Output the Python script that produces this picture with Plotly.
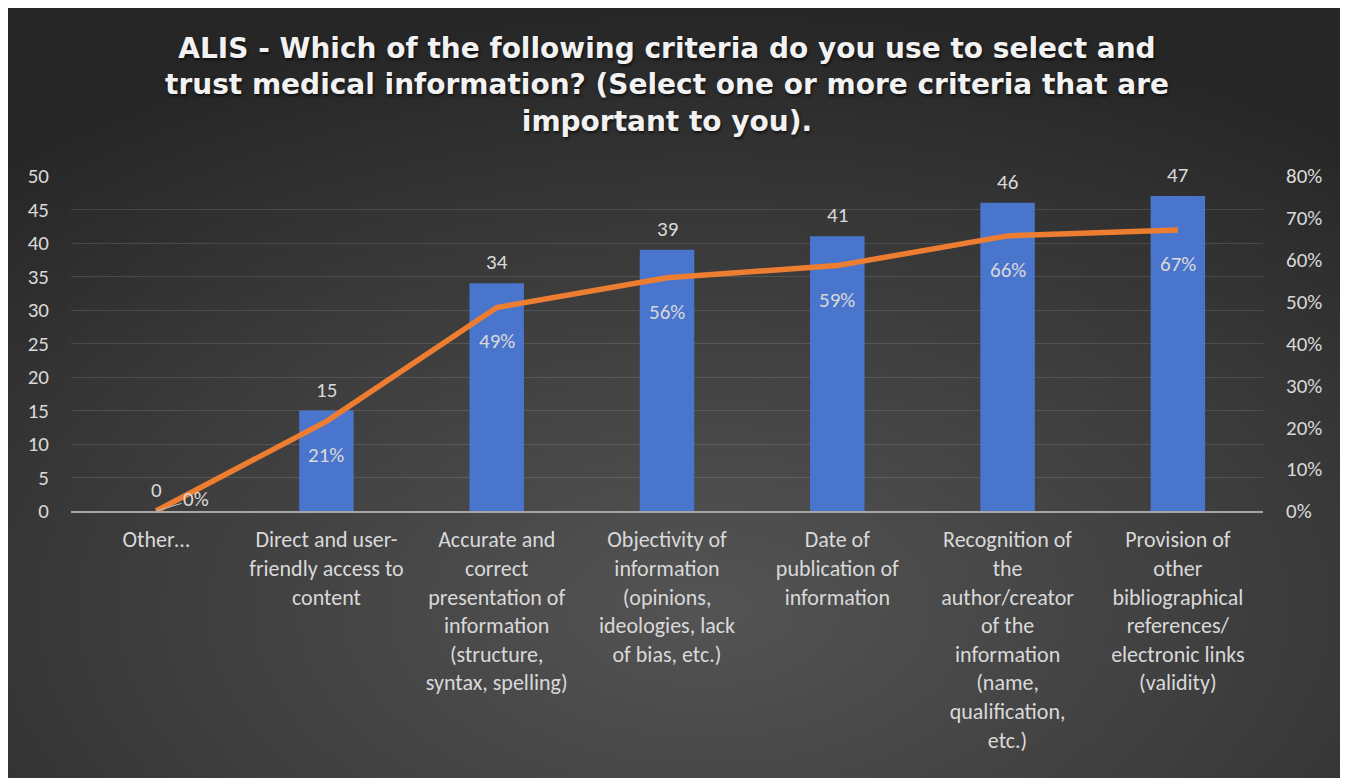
import base64
import plotly.graph_objects as go

categories = [
    "Other…",
    "Direct and user-<br>friendly access to<br>content",
    "Accurate and<br>correct<br>presentation of<br>information<br>(structure,<br>syntax, spelling)",
    "Objectivity of<br>information<br>(opinions,<br>ideologies, lack<br>of bias, etc.)",
    "Date of<br>publication of<br>information",
    "Recognition of<br>the<br>author/creator<br>of the<br>information<br>(name,<br>qualification,<br>etc.)",
    "Provision of<br>other<br>bibliographical<br>references/<br>electronic links<br>(validity)",
]
counts = [0, 15, 34, 39, 41, 46, 47]
shares = [0.0, 0.214, 0.486, 0.557, 0.586, 0.657, 0.671]
count_ticks = [0, 5, 10, 15, 20, 25, 30, 35, 40, 45, 50]
share_ticks = [0, 0.1, 0.2, 0.3, 0.4, 0.5, 0.6, 0.7, 0.8]

title = ("ALIS - Which of the following criteria do you use to select and<br>"
         "trust medical information? (Select one or more criteria that are<br>"
         "important to you).")

# page has an 8px body margin, so figure coords = page coords - 8
W, H = 1340, 770
L, R, T, B = 63, 1255, 168, 503
pw, ph = R - L, B - T

svg = (
    '<svg xmlns="http://www.w3.org/2000/svg" width="1340" height="772" preserveAspectRatio="none">'
    '<defs><radialGradient id="g" cx="0.52" cy="0.78" r="0.78">'
    '<stop offset="0" stop-color="#545454"/>'
    '<stop offset="0.55" stop-color="#3c3c3c"/>'
    '<stop offset="1" stop-color="#262626"/>'
    '</radialGradient></defs>'
    '<rect width="1340" height="772" fill="url(#g)"/></svg>'
)
src = "data:image/svg+xml;base64," + base64.b64encode(svg.encode()).decode()

font_main = "Carlito, Liberation Sans Narrow, Noto Sans, sans-serif"
txt = "#d9d9d9"

fig = go.Figure()
fig.add_trace(go.Bar(
    x=categories, y=counts, width=0.32,
    marker=dict(color="#4a75cd", line=dict(width=0)),
    showlegend=False, hoverinfo="skip",
))
fig.add_trace(go.Scatter(
    x=categories, y=shares, yaxis="y2", mode="lines",
    line=dict(color="#ED7D31", width=5.5),
    cliponaxis=False, showlegend=False, hoverinfo="skip",
))

annotations = []
for cat, c in zip(categories, counts):
    annotations.append(dict(x=cat, y=c, xref="x", yref="y", text=str(c),
                            showarrow=False, yanchor="bottom", yshift=6,
                            font=dict(color=txt, size=21, family=font_main)))
for i, (cat, s) in enumerate(zip(categories, shares)):
    label = f"{round(s*100)}%"
    if i == 0:
        annotations.append(dict(x=cat, y=s, xref="x", yref="y2", text=label,
                                showarrow=True, arrowhead=0, arrowwidth=1,
                                arrowcolor="#bfbfbf", ax=40, ay=-12,
                                font=dict(color=txt, size=21, family=font_main)))
    else:
        annotations.append(dict(x=cat, y=s, xref="x", yref="y2", text=label,
                                showarrow=False, yanchor="middle", yshift=-34,
                                font=dict(color=txt, size=21, family=font_main)))

fig.update_layout(
    width=W, height=H,
    margin=dict(l=L, r=W - R, t=T, b=H - B, pad=0),
    paper_bgcolor="white", plot_bgcolor="rgba(0,0,0,0)",
    title=dict(text=title, x=0.5, xanchor="center", xref="paper",
               y=1 - 50 / H, yanchor="top",
               font=dict(family="DejaVu Sans", size=28, color="#f2f2f2", weight="bold",
                         shadow="1px 2px 3px rgba(0,0,0,0.6)")),
    xaxis=dict(showgrid=False, showline=True, linecolor="#a6a6a6", linewidth=2,
               ticks="", tickfont=dict(color=txt, size=22, family=font_main),
               zeroline=False, ticklabelstandoff=8),
    yaxis=dict(range=[0, 50], tickvals=count_ticks, showgrid=True,
               gridcolor="rgba(255,255,255,0.12)", gridwidth=1, zeroline=False,
               tickfont=dict(color=txt, size=21, family=font_main), ticks="",
               ticklabelstandoff=21),
    yaxis2=dict(range=[0, 0.8], tickvals=share_ticks, tickformat=".0%",
                overlaying="y", side="right", showgrid=False, zeroline=False,
                tickfont=dict(color=txt, size=21, family=font_main), ticks="",
                ticklabelstandoff=22),
    annotations=annotations,
    images=[dict(source=src, xref="paper", yref="paper",
                 x=(-2 - L) / pw, y=(B + 3) / ph,
                 sizex=(1340 + 2) / pw, sizey=(770 + 3) / ph,
                 xanchor="left", yanchor="top", sizing="stretch", layer="below")],
)

fig.write_html("out.html")
